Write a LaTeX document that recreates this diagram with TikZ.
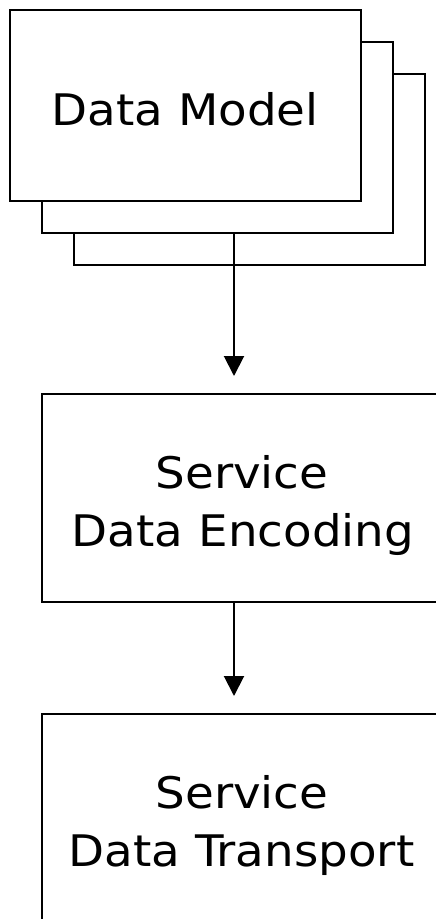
\documentclass[tikz,border=0pt]{standalone}
\usepackage{fontspec}
\setmainfont{DejaVu Sans}[FakeStretch=1.075]
\usetikzlibrary{arrows.meta}
\begin{document}
\begin{tikzpicture}[x=1pt,y=-1pt,
  box/.style={draw=black,line width=2pt,fill=white,rectangle,inner sep=0pt},
  lbl/.style={anchor=base,inner sep=0pt,font=\fontsize{43.5}{58}\selectfont},
  arr/.style={line width=2pt,-{Triangle[width=20pt,length=20pt]}}]
\useasboundingbox (0,0) rectangle (436,919);
\clip (0,0) rectangle (436,919);
% stacked data model boxes
\node[box,minimum width=351pt,minimum height=191.5pt] (m3) at (249.5,169.5) {};
\node[box,minimum width=351pt,minimum height=191pt] (m2) at (217.5,137.5) {};
\node[box,minimum width=351pt,minimum height=191pt] (m1) at (185.5,105.5) {};
\node[lbl] (t1) at (185,125) {Data Model};
% encoding box
\node[box,minimum width=402pt,minimum height=208pt] (enc) at (243,498) {};
\node[lbl] (t2a) at (242,488) {Service};
\node[lbl] (t2b) at (243,546) {Data Encoding};
% transport box
\node[box,minimum width=402pt,minimum height=240pt] (tra) at (243,834) {};
\node[lbl] (t3a) at (242,808) {Service};
\node[lbl] (t3b) at (241.5,866) {Data Transport};
% connectors
\coordinate (ax) at (234,0);
\draw[arr] (m2.south -| ax) -- ([yshift=17pt]enc.north -| ax);
\draw[arr] (enc.south -| ax) -- ([yshift=17pt]tra.north -| ax);
\end{tikzpicture}
\end{document}
